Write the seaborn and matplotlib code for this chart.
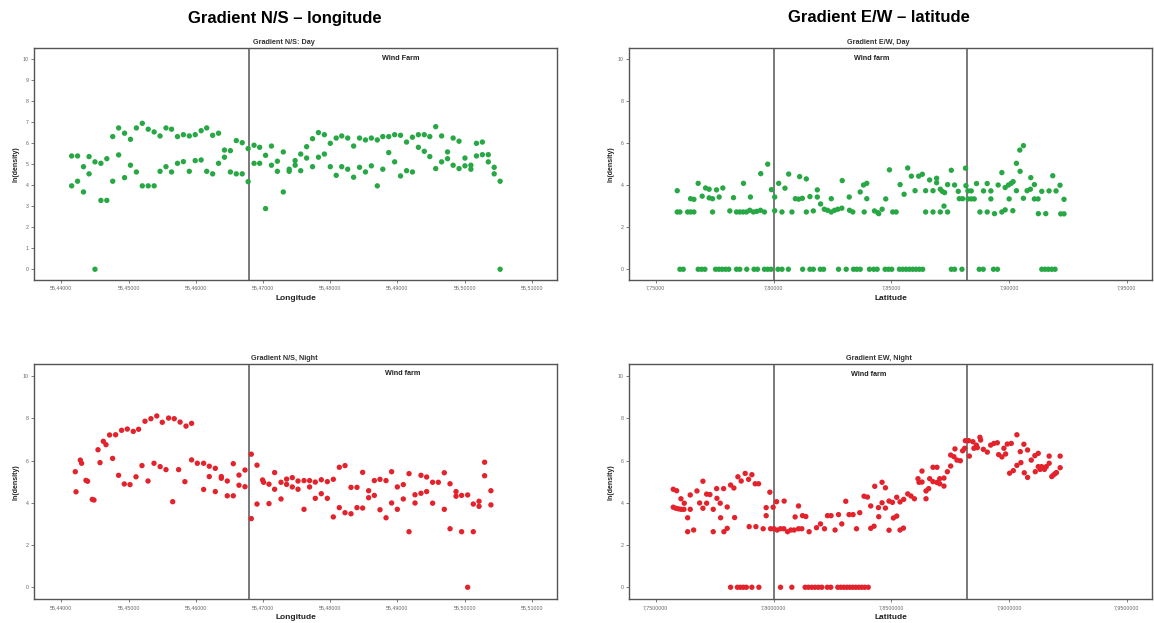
import matplotlib
matplotlib.use("Agg")
import matplotlib.pyplot as plt
import seaborn as sns
import pandas as pd

sns.set_theme(style="white")
plt.rcParams['font.family'] = ['Liberation Sans', 'DejaVu Sans']

# ---------------- data ----------------
# Gradient N/S, Day (two observations per longitude column)
ns_day_lon = [55.44154, 55.44242, 55.44330, 55.44413, 55.44501, 55.44589, 55.44677, 55.44765, 55.44853, 55.44941,
              55.45029, 55.45117, 55.45205, 55.45293, 55.45381, 55.45469, 55.45557, 55.45640, 55.45728, 55.45816,
              55.45904, 55.45992, 55.46080, 55.46163, 55.46251, 55.46339, 55.46427, 55.46515, 55.46603, 55.46691,
              55.46779, 55.46867, 55.46950, 55.47038, 55.47126, 55.47214, 55.47302, 55.47390, 55.47478, 55.47561,
              55.47649, 55.47737, 55.47825, 55.47913, 55.48001, 55.48089, 55.48171, 55.48260, 55.48348, 55.48436,
              55.48524, 55.48612, 55.48700, 55.48782, 55.48870, 55.48958, 55.49046, 55.49135, 55.49223, 55.49311,
              55.49399, 55.49481, 55.49569, 55.49657, 55.49745, 55.49828, 55.49916, 55.50004, 55.50092, 55.50175,
              55.50263, 55.50351, 55.50439, 55.50527]
ns_day_ln_upper = [5.38, 5.38, 4.87, 5.35, 5.10, 5.03, 5.25, 6.30, 6.71, 6.46,
                   6.17, 6.71, 6.93, 6.65, 6.52, 6.33, 6.71, 6.65, 6.30, 6.39,
                   6.33, 6.39, 6.58, 6.71, 6.36, 6.46, 5.66, 5.63, 6.11, 6.01,
                   5.73, 5.89, 5.79, 5.41, 5.85, 5.13, 5.57, 4.75, 5.16, 5.47,
                   5.82, 6.20, 6.49, 6.39, 5.98, 6.23, 6.33, 6.23, 5.85, 6.23,
                   6.14, 6.23, 6.14, 6.30, 6.30, 6.39, 6.36, 6.04, 6.27, 6.39,
                   6.39, 6.30, 6.77, 6.33, 5.57, 6.23, 6.08, 5.28, 4.94, 5.98,
                   6.04, 5.44, 4.84, 4.18]
ns_day_ln_lower = [3.96, 4.18, 3.67, 4.53, 0.00, 3.27, 3.27, 4.18, 5.43, 4.35,
                   4.94, 4.62, 3.96, 3.96, 3.96, 4.65, 4.87, 4.62, 5.03, 5.11,
                   4.65, 5.16, 5.19, 4.65, 4.53, 5.03, 5.32, 4.62, 4.53, 4.53,
                   4.16, 5.03, 5.03, 2.88, 4.94, 4.65, 3.67, 4.65, 4.94, 4.68,
                   5.28, 4.87, 5.32, 5.47, 4.87, 4.46, 4.87, 4.75, 4.37, 4.84,
                   4.62, 4.91, 3.96, 4.75, 5.54, 5.10, 4.43, 4.68, 4.62, 5.79,
                   5.60, 5.35, 4.78, 5.10, 5.25, 4.94, 4.78, 4.91, 4.75, 5.38,
                   5.44, 5.10, 4.53, 0.00]

# Gradient N/S, Night
ns_night_lon = [55.44208, 55.44219, 55.44283, 55.44302, 55.44367, 55.44391, 55.44461, 55.44486, 55.44546, 55.44576,
                55.44625, 55.44665, 55.44718, 55.44763, 55.44808, 55.44852, 55.44897, 55.44937, 55.44982, 55.45022,
                55.45071, 55.45111, 55.45150, 55.45200, 55.45245, 55.45290, 55.45333, 55.45379, 55.45420, 55.45470,
                55.45502, 55.45557, 55.45596, 55.45657, 55.45680, 55.45745, 55.45767, 55.45838, 55.45855, 55.45938,
                55.45938, 55.46023, 55.46117, 55.46117, 55.46201, 55.46201, 55.46291, 55.46291, 55.46380, 55.46380,
                55.46469, 55.46469, 55.46558, 55.46558, 55.46643, 55.46643, 55.46732, 55.46732, 55.46826, 55.46826,
                55.46911, 55.46911, 55.46994, 55.47009, 55.47089, 55.47089, 55.47173, 55.47173, 55.47268, 55.47268,
                55.47351, 55.47351, 55.47436, 55.47436, 55.47521, 55.47521, 55.47610, 55.47610, 55.47693, 55.47693,
                55.47778, 55.47778, 55.47867, 55.47867, 55.47957, 55.47957, 55.48046, 55.48046, 55.48135, 55.48135,
                55.48220, 55.48220, 55.48309, 55.48309, 55.48398, 55.48398, 55.48482, 55.48482, 55.48571, 55.48571,
                55.48656, 55.48656, 55.48740, 55.48740, 55.48830, 55.48830, 55.48913, 55.48913, 55.48998, 55.48998,
                55.49087, 55.49087, 55.49172, 55.49172, 55.49261, 55.49261, 55.49350, 55.49350, 55.49434, 55.49434,
                55.49523, 55.49523, 55.49608, 55.49697, 55.49697, 55.49782, 55.49782, 55.49871, 55.49871, 55.49954,
                55.49954, 55.50044, 55.50044, 55.50128, 55.50128, 55.50213, 55.50213, 55.50296, 55.50296, 55.50390,
                55.50390]
ns_night_ln = [5.47, 4.52, 6.02, 5.87, 5.06, 5.02, 4.16, 4.13, 6.51, 5.90,
               6.91, 6.75, 7.21, 6.10, 7.22, 5.30, 7.43, 4.89, 7.49, 4.86,
               7.38, 5.23, 7.48, 5.76, 7.86, 5.03, 7.98, 5.87, 8.11, 5.71,
               7.81, 5.57, 8.01, 4.05, 7.98, 5.57, 7.82, 5.00, 7.63, 7.76,
               6.03, 5.87, 5.87, 4.63, 5.73, 5.24, 5.63, 4.53, 5.24, 5.16,
               5.03, 4.33, 5.85, 4.33, 5.31, 4.83, 5.55, 4.76, 6.30, 3.25,
               5.78, 3.94, 5.08, 4.97, 4.88, 3.96, 5.43, 4.64, 4.97, 4.18,
               5.12, 4.87, 5.19, 4.75, 5.03, 4.64, 5.05, 3.69, 5.05, 4.75,
               4.98, 4.21, 5.09, 4.43, 5.00, 4.21, 5.11, 3.33, 5.68, 3.77,
               5.76, 3.53, 4.73, 3.48, 4.73, 3.77, 5.44, 3.75, 4.57, 4.24,
               5.05, 4.35, 5.11, 3.67, 5.05, 3.29, 5.47, 3.99, 4.75, 3.69,
               4.86, 4.18, 5.38, 2.63, 4.38, 3.99, 5.30, 4.45, 5.22, 4.53,
               4.97, 3.98, 4.97, 5.42, 3.69, 4.90, 2.77, 4.53, 4.31, 4.35,
               2.63, 4.37, 0.00, 3.94, 2.63, 4.07, 3.83, 5.92, 5.28, 4.57,
               3.90]

# Gradient E/W, Day
ew_day_lat = [7.75911, 7.75911, 7.76025, 7.76351, 7.76478, 7.76618, 7.76478, 7.76618, 7.76800, 7.76970,
              7.77114, 7.77266, 7.77266, 7.77410, 7.77410, 7.77579, 7.77690, 7.77846, 7.78143, 7.78299,
              7.78427, 7.78566, 7.78706, 7.78850, 7.78723, 7.78990, 7.79019, 7.79147, 7.79286, 7.79456,
              7.79443, 7.79612, 7.79752, 7.79909, 7.80049, 7.80049, 7.80218, 7.80358, 7.80485, 7.80642,
              7.80781, 7.80925, 7.81065, 7.81222, 7.81108, 7.81391, 7.81391, 7.81544, 7.81688, 7.81857,
              7.81857, 7.81997, 7.82154, 7.82293, 7.82450, 7.82590, 7.82730, 7.82899, 7.82450, 7.82916,
              7.83213, 7.83225, 7.83365, 7.83679, 7.83818, 7.83958, 7.83958, 7.83848, 7.84284, 7.84424,
              7.84466, 7.84610, 7.84763, 7.84920, 7.85059, 7.85203, 7.85373, 7.85542, 7.85695, 7.85851,
              7.86008, 7.86161, 7.86317, 7.86457, 7.86457, 7.86626, 7.86770, 7.86770, 7.86923, 7.86923,
              7.87080, 7.87080, 7.87164, 7.87262, 7.87236, 7.87389, 7.87389, 7.87546, 7.87685, 7.87842,
              7.87884, 7.88024, 7.88151, 7.88168, 7.88253, 7.88393, 7.88253, 7.88393, 7.88520, 7.88617,
              7.88761, 7.88914, 7.89070, 7.89070, 7.89227, 7.89227, 7.89380, 7.89536, 7.89693, 7.89693,
              7.89833, 7.89833, 7.89972, 7.90002, 7.90087, 7.90172, 7.90159, 7.90311, 7.90311, 7.90468,
              7.90455, 7.90608, 7.90608, 7.90764, 7.90904, 7.90921, 7.91074, 7.91074, 7.91230, 7.91243,
              7.91387, 7.91557, 7.91696, 7.91853, 7.91993, 7.92162, 7.92192, 7.92332, 7.92332,
              # observations with ln(density) = 0
              7.76025, 7.76165, 7.76800, 7.76944, 7.77084, 7.77537, 7.77677, 7.77817, 7.77961, 7.78100,
              7.78427, 7.78566, 7.78863, 7.79172, 7.79316, 7.79612, 7.79752, 7.79892, 7.80188, 7.80358,
              7.80629, 7.81235, 7.81544, 7.81688, 7.81984, 7.82124, 7.82759, 7.83085, 7.83395, 7.83535,
              7.83679, 7.84072, 7.84255, 7.84399, 7.84737, 7.84877, 7.85017, 7.85343, 7.85483, 7.85627,
              7.85767, 7.85906, 7.86050, 7.86190, 7.86330, 7.87546, 7.87685, 7.87999, 7.88731, 7.88901,
              7.89337, 7.89507, 7.91387, 7.91527, 7.91667, 7.91811, 7.91950]
ew_day_ln = [3.73, 2.72, 2.72, 2.72, 2.72, 2.72, 3.35, 3.32, 4.08, 3.47,
             3.86, 3.80, 3.39, 3.35, 2.72, 3.77, 3.43, 3.86, 2.77, 3.40,
             2.72, 2.72, 2.72, 2.72, 4.08, 2.80, 3.43, 2.72, 2.75, 4.54,
             2.80, 2.72, 4.99, 3.78, 3.43, 2.78, 4.08, 2.72, 3.85, 4.52,
             2.72, 3.35, 3.33, 3.37, 4.40, 4.29, 2.72, 3.45, 2.77, 3.77,
             3.43, 3.10, 2.85, 2.80, 2.72, 2.80, 2.85, 2.90, 3.35, 4.21,
             3.43, 2.80, 2.72, 3.67, 4.00, 4.08, 3.35, 2.72, 2.77, 2.69,
             2.64, 2.85, 3.34, 4.72, 2.72, 2.72, 4.02, 3.56, 4.81, 4.42,
             3.73, 4.42, 4.51, 3.73, 2.72, 4.24, 3.73, 2.72, 4.32, 4.11,
             3.80, 2.72, 3.70, 3.64, 3.00, 4.02, 2.72, 4.70, 4.00, 3.70,
             3.35, 3.35, 4.80, 3.97, 3.72, 3.72, 3.34, 3.34, 3.34, 4.07,
             2.72, 3.72, 4.07, 2.72, 3.72, 3.34, 2.64, 4.00, 4.59, 2.72,
             3.88, 2.82, 4.00, 3.34, 4.08, 4.16, 2.78, 3.73, 5.03, 4.65,
             5.66, 5.87, 3.37, 3.73, 3.80, 4.35, 4.02, 3.34, 3.34, 2.64,
             3.70, 2.64, 3.72, 4.44, 3.72, 3.99, 2.63, 2.63, 3.32,
             0, 0, 0, 0, 0, 0, 0, 0, 0, 0,
             0, 0, 0, 0, 0, 0, 0, 0, 0, 0,
             0, 0, 0, 0, 0, 0, 0, 0, 0, 0,
             0, 0, 0, 0, 0, 0, 0, 0, 0, 0,
             0, 0, 0, 0, 0, 0, 0, 0, 0, 0,
             0, 0, 0, 0, 0, 0, 0]

# Gradient E/W, Night
ew_night_lat = [7.75742, 7.75886, 7.75742, 7.75857, 7.75971, 7.76081, 7.76196, 7.76069, 7.76209, 7.76353,
                7.76353, 7.76463, 7.76463, 7.76607, 7.76747, 7.76862, 7.77002, 7.77002, 7.77159, 7.77299,
                7.77159, 7.77439, 7.77439, 7.77583, 7.77595, 7.77735, 7.77752, 7.77880, 7.77892, 7.78032,
                7.78032, 7.78176, 7.78316, 7.78346, 7.78486, 7.78626, 7.78796, 7.78940, 7.78965, 7.79080,
                7.79220, 7.79364, 7.79250, 7.79559, 7.79686, 7.79686, 7.79843, 7.79873, 7.79983, 7.80013,
                7.80127, 7.80153, 7.80297, 7.80437, 7.80450, 7.80594, 7.80734, 7.80874, 7.80916, 7.81060,
                7.81060, 7.81200, 7.81230, 7.81370, 7.81510, 7.81824, 7.81993, 7.82163, 7.82290, 7.82443,
                7.82612, 7.82757, 7.82897, 7.83066, 7.83206, 7.83376, 7.83520, 7.83660, 7.83842, 7.83987,
                7.84126, 7.84126, 7.84266, 7.84296, 7.84453, 7.84466, 7.84606, 7.84606, 7.84750, 7.84750,
                7.84902, 7.84902, 7.85047, 7.85089, 7.85229, 7.85229, 7.85369, 7.85369, 7.85513, 7.85526,
                7.85696, 7.85835, 7.85980, 7.86132, 7.86175, 7.86302, 7.86302, 7.86472, 7.86472, 7.86586,
                7.86629, 7.86768, 7.86938, 7.86768, 7.86938, 7.87053, 7.87053, 7.87235, 7.87235, 7.87379,
                7.87519, 7.87519, 7.87659, 7.87701, 7.87786, 7.87930, 7.88028, 7.88113, 7.88142, 7.88282,
                7.88312, 7.88465, 7.88609, 7.88507, 7.88651, 7.88761, 7.88791, 7.88906, 7.89075, 7.89216,
                7.89355, 7.89500, 7.89555, 7.89695, 7.89780, 7.89924, 7.90093, 7.89852, 7.90021, 7.90178,
                7.90331, 7.90331, 7.90475, 7.90501, 7.90628, 7.90644, 7.90785, 7.90785, 7.90942, 7.91094,
                7.91238, 7.91111, 7.91238, 7.91315, 7.91378, 7.91501, 7.91578, 7.91701, 7.91701, 7.91811,
                7.91887, 7.91964, 7.92010, 7.92167, 7.92167,
                # observations with ln(density) = 0
                7.78176, 7.78465, 7.78592, 7.78719, 7.78846, 7.79080, 7.79377, 7.80297, 7.80776, 7.81340,
                7.81480, 7.81624, 7.81764, 7.81904, 7.82048, 7.82282, 7.82430, 7.82727, 7.82854, 7.82981,
                7.83109, 7.83236, 7.83363, 7.83490, 7.83617, 7.83745, 7.83872, 7.84020]
ew_night_ln = [4.64, 4.57, 3.79, 3.74, 3.71, 3.69, 3.69, 4.19, 3.98, 3.29,
               2.63, 4.37, 3.69, 2.71, 4.56, 3.99, 5.02, 3.74, 4.41, 4.39,
               3.98, 3.69, 2.63, 4.67, 4.21, 3.98, 3.29, 4.67, 2.63, 3.80,
               2.79, 4.84, 4.70, 3.30, 5.23, 5.03, 5.39, 5.11, 2.87, 5.33,
               4.90, 4.90, 2.87, 2.77, 3.77, 3.39, 4.50, 2.77, 3.79, 2.77,
               4.05, 2.71, 2.77, 2.77, 4.08, 2.63, 2.71, 2.71, 3.33, 3.85,
               2.77, 2.77, 3.39, 3.35, 2.63, 2.82, 3.00, 2.77, 3.39, 3.39,
               2.71, 3.44, 3.00, 4.07, 3.44, 3.44, 2.77, 3.53, 4.31, 4.27,
               3.85, 2.79, 2.89, 4.78, 3.77, 3.34, 4.97, 4.00, 4.71, 3.75,
               4.08, 2.70, 4.02, 3.28, 3.37, 4.26, 4.04, 2.71, 2.80, 4.16,
               4.42, 4.32, 4.19, 5.14, 4.97, 5.50, 4.98, 4.56, 4.19, 4.67,
               5.14, 5.68, 5.68, 5.00, 4.96, 4.90, 5.14, 5.17, 4.79, 5.47,
               5.74, 6.26, 6.18, 6.55, 6.02, 5.99, 6.46, 6.58, 6.94, 6.94,
               6.21, 6.89, 6.73, 6.58, 6.61, 7.10, 6.97, 6.53, 6.40, 6.73,
               6.81, 6.84, 6.28, 6.17, 6.58, 6.78, 6.81, 6.31, 5.40, 5.52,
               7.22, 5.77, 6.42, 5.90, 6.77, 5.42, 6.50, 5.20, 6.02, 6.23,
               6.34, 5.47, 5.71, 5.58, 5.71, 5.58, 5.71, 6.21, 5.87, 5.24,
               5.32, 5.39, 5.43, 6.21, 5.66,
               0, 0, 0, 0, 0, 0, 0, 0, 0, 0,
               0, 0, 0, 0, 0, 0, 0, 0, 0, 0,
               0, 0, 0, 0, 0, 0, 0, 0]

# wind farm boundaries
ns_farm_bounds = [55.4679]
ew_farm_bounds = [7.8000, 7.8820]

# ticks
ns_xticks = [55.44, 55.45, 55.46, 55.47, 55.48, 55.49, 55.50, 55.51]
ns_xticklabels = ["55,44000", "55,45000", "55,46000", "55,47000", "55,48000", "55,49000", "55,50000", "55,51000"]
ew_xticks = [7.75, 7.80, 7.85, 7.90, 7.95]
ew_day_xticklabels = ["7,75000", "7,80000", "7,85000", "7,90000", "7,95000"]
ew_night_xticklabels = ["7,7500000", "7,8000000", "7,8500000", "7,9000000", "7,9500000"]
yticks_fine = [0, 1, 2, 3, 4, 5, 6, 7, 8, 9, 10]
yticks_coarse = [0, 2, 4, 6, 8, 10]

GREEN = "#27a845"
RED = "#e3222c"

# ---------------- figure ----------------
W, H = 1154, 623
fig = plt.figure(figsize=(W / 100, H / 100), dpi=100)
fig.patch.set_facecolor("white")


def px_axes(left, top, right, bottom):
    return fig.add_axes([left / W, 1 - bottom / H, (right - left) / W, (bottom - top) / H])


panels = [
    dict(box=(34.4, 47.7, 556.8, 280.0), x=ns_day_lon + ns_day_lon,
         y=ns_day_ln_upper + ns_day_ln_lower, color=GREEN, xlim=(55.436, 55.5137), ylim=(-0.51, 10.52),
         xticks=ns_xticks, xlabels=ns_xticklabels, yticks=yticks_fine, bounds=ns_farm_bounds,
         title="Gradient N/S: Day", title_x=0.477, farm="Wind Farm", farm_xy=(0.702, 0.955),
         xlabel="Longitude"),
    dict(box=(629.4, 47.7, 1151.6, 280.0), x=ew_day_lat, y=ew_day_ln, color=GREEN,
         xlim=(7.7388, 7.9605), ylim=(-0.51, 10.52), xticks=ew_xticks, xlabels=ew_day_xticklabels,
         yticks=yticks_coarse, bounds=ew_farm_bounds, title="Gradient E/W, Day", title_x=0.476,
         farm="Wind farm", farm_xy=(0.464, 0.955), xlabel="Latitude"),
    dict(box=(34.4, 364.0, 556.8, 599.3), x=ns_night_lon, y=ns_night_ln, color=RED,
         xlim=(55.436, 55.5137), ylim=(-0.57, 10.57), xticks=ns_xticks, xlabels=ns_xticklabels,
         yticks=yticks_coarse, bounds=ns_farm_bounds, title="Gradient N/S, Night", title_x=0.478,
         farm="Wind farm", farm_xy=(0.705, 0.96), xlabel="Longitude"),
    dict(box=(629.4, 364.0, 1151.6, 599.3), x=ew_night_lat, y=ew_night_ln, color=RED,
         xlim=(7.7388, 7.9605), ylim=(-0.57, 10.57), xticks=ew_xticks, xlabels=ew_night_xticklabels,
         yticks=yticks_coarse, bounds=ew_farm_bounds, title="Gradient EW, Night", title_x=0.478,
         farm="Wind farm", farm_xy=(0.459, 0.955), xlabel="Latitude"),
]

for p in panels:
    ax = px_axes(*p["box"])
    ax.set_facecolor("white")
    df = pd.DataFrame({"pos": p["x"], "ln": p["y"]})
    sns.scatterplot(data=df, x="pos", y="ln", ax=ax, color=p["color"], s=15,
                    linewidth=0, edgecolor="none", legend=False, zorder=3)
    for b in p["bounds"]:
        ax.axvline(b, color="#555555", lw=1.1, zorder=2)
    ax.set_xlim(*p["xlim"])
    ax.set_ylim(*p["ylim"])
    ax.set_xticks(p["xticks"])
    ax.set_xticklabels(p["xlabels"])
    ax.set_yticks(p["yticks"])
    ax.set_yticklabels([str(v) for v in p["yticks"]])
    ax.tick_params(axis="both", which="both", direction="out", length=2.5, width=0.6,
                   colors="#666666", labelsize=3.8, pad=1.5, bottom=True, left=True)
    for sp in ax.spines.values():
        sp.set_color("#555555")
        sp.set_linewidth(1.0)
    ax.set_xlabel(p["xlabel"], fontsize=6, fontweight="bold", color="#222222")
    ax.set_ylabel("ln(density)", fontsize=5, fontweight="bold", color="#222222")
    bh = p["box"][3] - p["box"][1]
    bw = p["box"][2] - p["box"][0]
    ax.xaxis.set_label_coords(0.5, -14.5 / bh)
    ax.yaxis.set_label_coords(-15.0 / bw, 0.5)
    ax.text(p["title_x"], 1 + 5.5 / bh, p["title"], transform=ax.transAxes, ha="center",
            va="center", fontsize=5.2, fontweight="bold", color="#333333")
    ax.text(p["farm_xy"][0], p["farm_xy"][1], p["farm"], transform=ax.transAxes, ha="center",
            va="center", fontsize=5.2, fontweight="bold", color="#222222")

fig.text(284.5 / W, 1 - 18 / H, "Gradient N/S – longitude", ha="center", va="center",
         fontsize=12, fontweight="bold", color="black")
fig.text(879 / W, 1 - 18 / H, "Gradient E/W – latitude", ha="center", va="center",
         fontsize=12, fontweight="bold", color="black")

fig.savefig("out.png", dpi=100, facecolor="white")
